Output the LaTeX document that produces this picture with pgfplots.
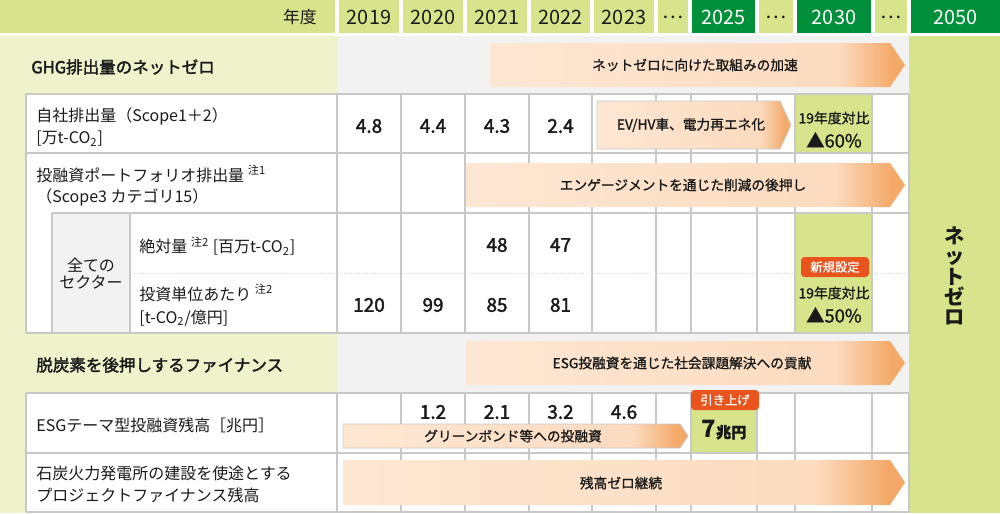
\documentclass[border=0pt]{standalone}
\usepackage{fontspec}
\setmainfont{Noto Sans CJK JP}
\newfontfamily\medfont{Noto Sans CJK JP}[FakeBold=1.2]
\newfontfamily\semifont{Noto Sans CJK JP}[FakeBold=2]
\usepackage{pgfplots}
\pgfplotsset{compat=1.18}

\definecolor{hdrgreen}{HTML}{D8E48C}
\definecolor{dkgreen}{HTML}{00903C}
\definecolor{palegreen}{HTML}{EEF3CC}
\definecolor{bggray}{HTML}{F2F2F2}
\definecolor{gridgray}{HTML}{C8C8C8}
\definecolor{badge}{HTML}{E9531C}
\definecolor{peachL}{HTML}{FDE7D3}
\definecolor{peachM}{HTML}{FCDBBF}
\definecolor{peachO}{HTML}{F4A968}
\definecolor{txt}{HTML}{1A1A1A}

\pgfdeclarehorizontalshading{arrowshade}{100bp}{color(0bp)=(peachL); color(25bp)=(peachL); color(67bp)=(peachM); color(73.5bp)=(peachO); color(100bp)=(peachO)}

\newcommand\fz[2]{\fontsize{#1}{#2}\selectfont}
% x1 x2 y1 y2 tip extra
\newcommand\arr[6]{\path[shading=arrowshade,#6] (#1,#3) -- ({#2-#5},#3) -- (#2,{(#3+#4)/2}) -- ({#2-#5},#4) -- (#1,#4) -- cycle;}

\begin{document}
\begin{tikzpicture}
\begin{axis}[
	scale only axis, width=20cm, height=10.26cm,
	xmin=0, xmax=1000, ymin=0, ymax=513, y dir=reverse,
	hide axis, clip=false,
	numlabel/.style={draw=none, mark=none, nodes near coords, point meta=explicit symbolic,
		every node near coord/.append style={anchor=center, inner sep=0pt, text=txt, font=\semifont\fz{10.8}{12}}},
]
\path (0,0) rectangle (1000,513);

% header row
\fill[hdrgreen] (0,0) rectangle (335,33);
\fill[hdrgreen] (339,0) rectangle (399,33);
\fill[hdrgreen] (403,0) rectangle (463,33);
\fill[hdrgreen] (467,0) rectangle (527,33);
\fill[hdrgreen] (531,0) rectangle (590,33);
\fill[hdrgreen] (594,0) rectangle (654,33);
\fill[hdrgreen] (658,0) rectangle (688,33);
\fill[dkgreen] (692,0) rectangle (755,33);
\fill[hdrgreen] (759,0) rectangle (793,33);
\fill[dkgreen] (797,0) rectangle (871,33);
\fill[hdrgreen] (875,0) rectangle (907,33);
\fill[dkgreen] (911,0) rectangle (1000,33);

% body backgrounds
\fill[palegreen] (0,36) rectangle (337,513);
\fill[bggray] (337,36) rectangle (909,94);
\fill[bggray] (337,333) rectangle (909,393);
\fill[white] (26,94) rectangle (909,333);
\fill[white] (26,393) rectangle (909,512);
\fill[hdrgreen] (909,36) rectangle (1000,513);
\fill[bggray] (52,213) rectangle (130,333);

% highlighted target cells
\fill[hdrgreen] (795,94) rectangle (872,153);
\fill[hdrgreen] (795,213) rectangle (872,333);
\fill[hdrgreen] (691,400) rectangle (757,452);

% grid
\begin{scope}[gridgray, line width=0.7pt]
\draw (26,94) -- (909,94);
\draw (26,153) -- (909,153);
\draw (52,213) -- (909,213);
\draw (26,333) -- (909,333);
\draw (26,393) -- (909,393);
\draw (26,453) -- (909,453);
\draw (26,512) -- (909,512);
\draw (52,213) -- (52,333);
\draw (130,213) -- (130,333);
\pgfplotsinvokeforeach{26,337,401,465,529,592,656,691,757,795,872,909}{
	\draw (#1,94) -- (#1,333);
	\draw (#1,393) -- (#1,512);
}
\end{scope}
\draw[gridgray!70, line width=0.5pt, densely dotted] (130,273) -- (795,273);
\draw[gridgray!70, line width=0.5pt, densely dotted] (872,273) -- (909,273);

% arrows
\arr{490}{905}{43}{87}{15}{}
\arr{597}{791}{101}{149}{11}{draw=gridgray, line width=0.5pt}
\arr{466}{905}{163}{207}{15}{}
\arr{466}{905}{341}{385}{15}{}
\arr{343}{688}{424}{448}{8}{draw=gridgray, line width=0.5pt}
\arr{343}{905}{460}{505}{15}{}

% badges
\fill[badge, rounded corners=2pt] (801,257) rectangle (869,277);
\fill[badge, rounded corners=2pt] (691,390) rectangle (759,410);

% header text
\node[anchor=east, text=txt, font=\fz{9.6}{11}] at (323,17) {年度};
\begin{scope}[font=\fz{11.3}{12}, text=txt]
\node at (369,17) {2019};
\node at (433,17) {2020};
\node at (497,17) {2021};
\node at (560.5,17) {2022};
\node at (624,17) {2023};
\node at (673,17) {…};
\node[text=white] at (723.5,17) {2025};
\node at (776,17) {…};
\node[text=white] at (834,17) {2030};
\node at (891,17) {…};
\node[text=white] at (955.5,17) {2050};
\end{scope}

% row labels
\begin{scope}[text=txt, inner sep=0pt]
\node[anchor=west, font=\semifont\fz{9.4}{11}] at (31,67) {GHG排出量のネットゼロ};
\node[anchor=west, align=left, font=\fz{9.1}{13}] at (36,127) {自社排出量（Scope1＋2）\\{}[万t-CO\textsubscript{2}]};
\node[anchor=west, align=left, font=\fz{9.1}{12}] at (36,186) {投融資ポートフォリオ排出量 \textsuperscript{注1}\\（Scope3 カテゴリ15）};
\node[align=center, font=\fz{9.1}{9.6}] at (91,274) {全ての\\セクター};
\node[anchor=west, font=\fz{9.1}{11}] at (139,246) {絶対量 \textsuperscript{注2} {[}百万t-CO\textsubscript{2}{]}};
\node[anchor=west, align=left, font=\fz{9.1}{13}] at (139,305) {投資単位あたり \textsuperscript{注2}\\{}[t-CO\textsubscript{2}/億円]};
\node[anchor=west, font=\semifont\fz{9.4}{11}] at (36,365) {脱炭素を後押しするファイナンス};
\node[anchor=west, font=\fz{9.1}{11}] at (36,425) {ESGテーマ型投融資残高［兆円］};
\node[anchor=west, align=left, font=\fz{9.1}{12.5}] at (36,484) {石炭火力発電所の建設を使途とする\\プロジェクトファイナンス残高};
\end{scope}

% arrow texts
\begin{scope}[text=txt, font=\medfont\fz{7.8}{9}]
\node at (695,65) {ネットゼロに向けた取組みの加速};
\node at (691,125) {EV/HV車、電力再エネ化};
\node at (683,185) {エンゲージメントを通じた削減の後押し};
\node at (682,363) {ESG投融資を通じた社会課題解決への貢献};
\node at (513,436) {グリーンボンド等への投融資};
\node at (621,483) {残高ゼロ継続};
\end{scope}

% targets
\begin{scope}[text=txt]
\node[font=\medfont\fz{7.9}{9}] at (834,118) {19年度対比};
\node[font=\medfont\fz{10.4}{12}] at (834,140) {▲60\%};
\node[font=\medfont\fz{7.9}{9}] at (834,293) {19年度対比};
\node[font=\medfont\fz{10.4}{12}] at (834,315) {▲50\%};
\node[text=white, font=\medfont\fz{7}{8}] at (835,267) {新規設定};
\node[text=white, font=\medfont\fz{7}{8}] at (725,400) {引き上げ};
\node at (724,430) {\bfseries\fz{13.6}{15}7\semifont\fz{8.6}{10}兆円};
\node[align=center, font=\bfseries\fz{11.5}{11.6}] at (955,276) {ネ\\ッ\\ト\\ゼ\\ロ};
\end{scope}

% values
\addplot[numlabel] table[meta=label] {
x y label
369 126 4.8
433 126 4.4
497 126 4.3
560.5 126 2.4
};
\addplot[numlabel] table[meta=label] {
x y label
497 245 48
560.5 245 47
};
\addplot[numlabel] table[meta=label] {
x y label
369 305 120
433 305 99
497 305 85
560.5 305 81
};
\addplot[numlabel] table[meta=label] {
x y label
433 412 1.2
497 412 2.1
560.5 412 3.2
624 412 4.6
};
\end{axis}
\end{tikzpicture}
\end{document}
